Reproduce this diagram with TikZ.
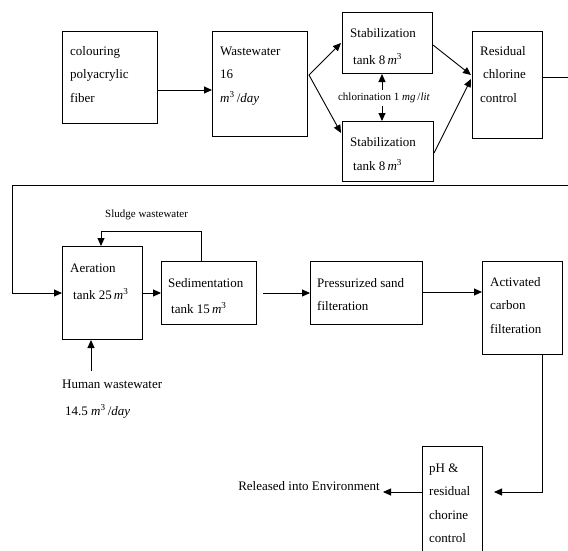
\documentclass[tikz,border=0pt]{standalone}
\usepackage{fontspec}
\setmainfont{Liberation Serif}
\usetikzlibrary{arrows.meta,calc}
\begin{document}
\begin{tikzpicture}[x=1pt,y=-1pt,
  box/.style={draw, line width=1pt, inner sep=0pt, anchor=north west},
  arr/.style={line width=0.9pt, -{Triangle[length=8pt,width=7pt]}},
  ln/.style={line width=0.9pt},
  txt/.style={anchor=base west, align=left, inner sep=0pt, font=\fontsize{13}{23.5}\selectfont},
  txtw/.style={anchor=base west, align=left, inner sep=0pt, font=\fontsize{13}{27}\selectfont},
  small/.style={inner xsep=0pt, inner ysep=3pt, font=\fontsize{11}{13}\selectfont}]
\useasboundingbox (0,0) rectangle (568,550);
\clip (0,0) rectangle (568,550);
% boxes
\node[box, minimum width=95pt, minimum height=92pt] (col) at (62,31) {};
\node[box, minimum width=95pt, minimum height=105pt] (ww) at (212,31) {};
\node[box, minimum width=90pt, minimum height=61pt] (st1) at (342,12) {};
\node[box, minimum width=91pt, minimum height=60pt] (st2) at (342,121) {};
\node[box, minimum width=70pt, minimum height=107pt] (res) at (472,31) {};
\node[box, minimum width=80pt, minimum height=93pt] (aer) at (62,246) {};
\node[box, minimum width=95pt, minimum height=63pt] (sed) at (161,261) {};
\node[box, minimum width=112pt, minimum height=63pt] (psf) at (310,261) {};
\node[box, minimum width=80pt, minimum height=93pt] (acf) at (482,261) {};
\node[box, minimum width=60pt, minimum height=120pt] (ph) at (422,446) {};
% texts (anchor = baseline of the last line)
\node[txt] (tcol) at (70,102) {colouring\\polyacrylic\\fiber};
\node[txt] (tww) at (220,102) {Wastewater\\16\\\textit{m}\textsuperscript{3}\,/\textit{day}};
\node[txtw] (tst1) at (350,64) {Stabilization\\\hspace{3pt}tank 8\,\textit{m}\textsuperscript{3}};
\node[txt, font=\fontsize{13}{24}\selectfont] (tst2) at (350,170) {Stabilization\\\hspace{3pt}tank 8\,\textit{m}\textsuperscript{3}};
\node[txt] (tres) at (480,102) {Residual\\\hspace{3pt}chlorine\\control};
\node[txtw] (taer) at (70,299) {Aeration\\\hspace{3pt}tank 25\,\textit{m}\textsuperscript{3}};
\node[txt, font=\fontsize{13}{26}\selectfont] (tsed) at (168,313) {Sedimentation\\\hspace{3pt}tank 15\,\textit{m}\textsuperscript{3}};
\node[txt] (tpsf) at (317,310.5) {Pressurized sand\\filteration};
\node[txt] (tacf) at (490,333) {Activated\\carbon\\filteration};
\node[txt] (tph) at (429,542.5) {pH \&\\residual\\chorine\\control};
\node[txt, anchor=base east] (rel) at (380,490) {Released into Environment};
\node[txtw] (hum) at (62,415) {Human wastewater\\\hspace{3pt}14.5 \textit{m}\textsuperscript{3}\,/\textit{day}};
\node[small, anchor=base west] (slu) at (105,217) {Sludge wastewater};
\node[small] (chl) at (384,98) {chlorination 1 \textit{mg}\,/\textit{lit}};
% helper coordinates
\coordinate (cx) at (382,0);
\coordinate (exitR) at (568,77);
\coordinate (r1) at (568,185);
\coordinate (r2) at (12,185);
% connectors
\draw[arr] ($(col.north east)+(0,59)$) -- ($(ww.north west)+(0,59)$);
\draw[arr] ($(ww.north east)+(1,44)$) -- ($(st1.north west)+(-1,31)$);
\draw[arr] ($(ww.north east)+(1,44)$) -- ($(st2.north west)+(-1,12)$);
\draw[arr] ($(st1.north east)+(0,33)$) -- ($(res.north west)+(-1,44)$);
\draw[arr] ($(st2.north east)+(0,32)$) -- ($(res.north west)+(-1,48)$);
\draw[arr] (chl.north -| cx) -- (st1.south -| cx);
\draw[arr] (chl.south -| cx) -- (st2.north -| cx);
\draw[ln] ($(res.north east)+(0,46)$) -- (exitR);
\draw[arr] (r1) -- (r2) |- ($(aer.north west)+(0,47)$);
\draw[arr] ($(aer.north east)+(0,47)$) -- ($(sed.north west)+(0,32)$);
\draw[arr] ($(sed.north west)+(40,0)$) -- ++(0,-30) -| ($(aer.north west)+(39,0)$);
\draw[arr] ($(sed.north east)+(6,32)$) -- ($(psf.north west)+(0,32)$);
\draw[arr] ($(psf.north east)+(0,31)$) -- ($(acf.north west)+(0,31)$);
\draw[arr] ($(acf.south west)+(60,0)$) |- ($(ph.north east)+(11,46)$);
\draw[arr] ($(ph.north west)+(0,46)$) -- ($(ph.north west)+(-39,46)$);
\draw[arr] ($(aer.south west)+(29,31)$) -- ($(aer.south west)+(29,0)$);
\end{tikzpicture}
\end{document}
